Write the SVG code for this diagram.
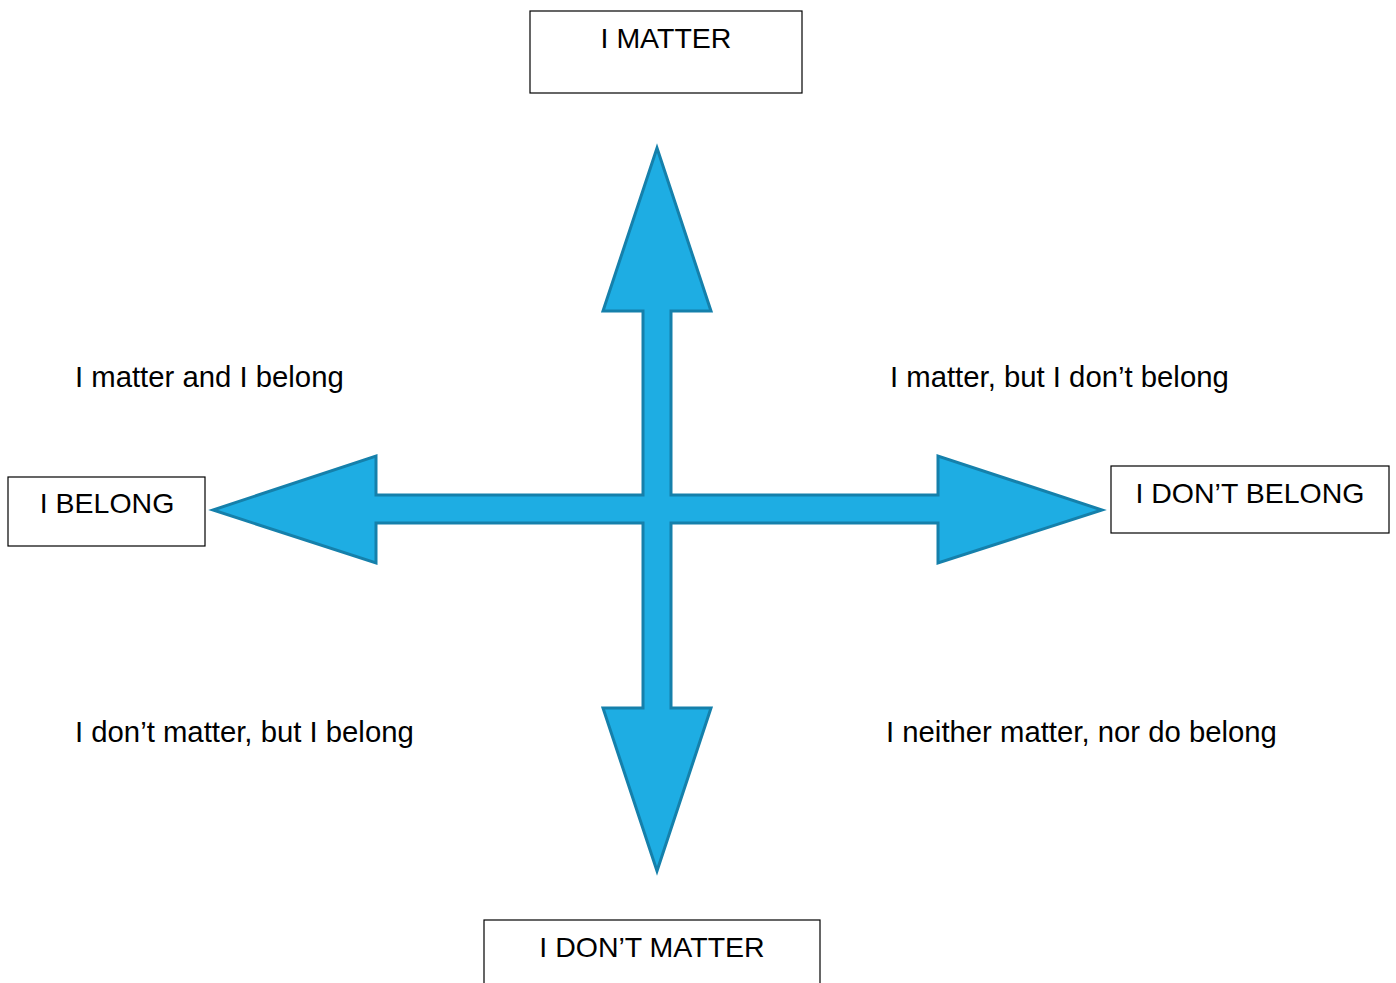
<svg xmlns="http://www.w3.org/2000/svg" width="1396" height="983" viewBox="0 0 1396 983">
<style>
.box{fill:#fff;stroke:#000;stroke-width:1.2}
.t{font-family:"Liberation Sans",Arial,sans-serif;font-size:28.5px;fill:#000}
.q{font-size:29.3px}
.c{text-anchor:middle}
.arrow{fill:#1EADE3;stroke:#1580AB;stroke-width:3;stroke-linejoin:miter}
</style>
<rect width="1396" height="983" fill="#fff"/>
<g id="connectors">
<polygon class="arrow" points="657,148 711,311 671,311 671,495 938,495 938,456 1102,510 938,563 938,523 671,523 671,708 711,708 657,871 603,708 643,708 643,523 376,523 376,563 213,510 376,456 376,495 643,495 643,311 603,311"/>
</g>
<g id="n-matter"><rect class="box" x="530" y="11" width="272" height="82"/><text class="t c" x="666" y="48">I MATTER</text></g>
<g id="n-belong"><rect class="box" x="8" y="477" width="197" height="69"/><text class="t c" x="107" y="513">I BELONG</text></g>
<g id="n-dontbelong"><rect class="box" x="1111" y="466" width="278" height="67"/><text class="t c" x="1250" y="503">I DON’T BELONG</text></g>
<g id="n-dontmatter"><rect class="box" x="484" y="920" width="336" height="80"/><text class="t c" x="652" y="957">I DON’T MATTER</text></g>
<g id="labels">
<text class="t q" x="75" y="387">I matter and I belong</text>
<text class="t q" x="890" y="387">I matter, but I don’t belong</text>
<text class="t q" x="75" y="742">I don’t matter, but I belong</text>
<text class="t q" x="886" y="742">I neither matter, nor do belong</text>
</g>
</svg>
